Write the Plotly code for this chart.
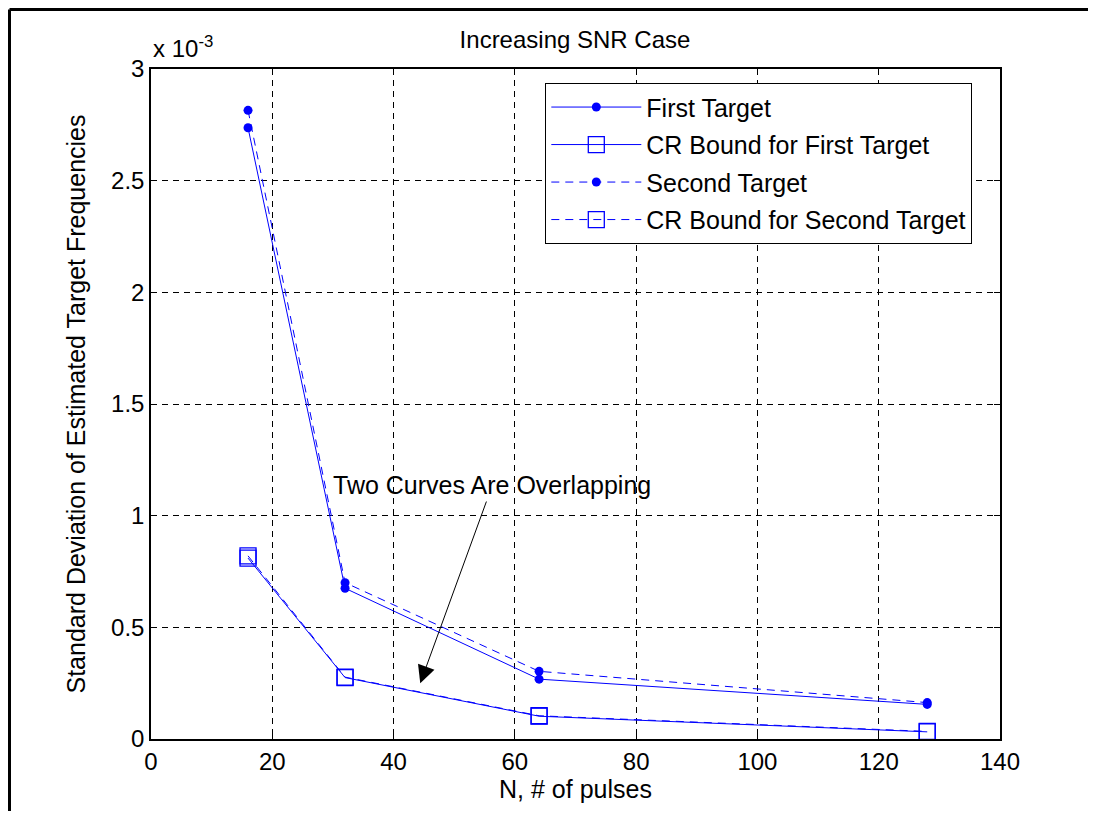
import plotly.graph_objects as go

# Data (y values in units of 1e-3)
N = [16, 32, 64, 128]
first_target = [2.737, 0.675, 0.268, 0.155]
crb_first = [0.810, 0.275, 0.102, 0.032]
second_target = [2.815, 0.700, 0.303, 0.163]
crb_second = [0.820, 0.277, 0.104, 0.034]

x_ticks = [0, 20, 40, 60, 80, 100, 120, 140]
y_ticks = [0, 0.5, 1, 1.5, 2, 2.5, 3]
y_tick_text = ["0", "0.5", "1", "1.5", "2", "2.5", "3"]

BLUE = "rgb(0,0,255)"
FONT = "Liberation Sans, Arial, sans-serif"
FS = 24
FS_TEXT = 25

W, H = 1080, 803  # page sits 8px in from the window edge

fig = go.Figure()
fig.add_trace(go.Scatter(x=N, y=first_target, name="First Target", mode="lines+markers",
                         legendgroup="a",
                         line=dict(color=BLUE, width=1),
                         marker=dict(symbol="circle", size=9, color=BLUE)))
fig.add_trace(go.Scatter(x=N, y=crb_first, name="CR Bound for First Target", mode="lines+markers",
                         legendgroup="b",
                         line=dict(color=BLUE, width=1),
                         marker=dict(symbol="square-open", size=16, color=BLUE, line=dict(width=1.3))))
fig.add_trace(go.Scatter(x=N, y=second_target, name="Second Target", mode="lines+markers",
                         legendgroup="c",
                         line=dict(color=BLUE, width=1, dash="8px,6px"),
                         marker=dict(symbol="circle", size=9, color=BLUE)))
fig.add_trace(go.Scatter(x=N, y=crb_second, name="CR Bound for Second Target", mode="lines+markers",
                         legendgroup="d",
                         line=dict(color=BLUE, width=1, dash="8px,6px"),
                         marker=dict(symbol="square-open", size=16, color=BLUE, line=dict(width=1.3))))

axis_common = dict(showline=True, linecolor="black", linewidth=1.5, mirror="ticks",
                   ticks="inside", ticklen=6, tickcolor="black",
                   showgrid=True, gridcolor="black", gridwidth=1, griddash="6px,5px",
                   zeroline=False, tickfont=dict(family=FONT, size=FS, color="black"))

fig.update_xaxes(range=[0, 140], tickvals=x_ticks, **axis_common,
                 title=dict(text="N, # of pulses", font=dict(family=FONT, size=FS_TEXT, color="black"), standoff=2))
fig.update_yaxes(range=[0, 3], tickvals=y_ticks, ticktext=y_tick_text, **axis_common,
                 title=dict(text="Standard Deviation of Estimated Target Frequencies",
                            font=dict(family=FONT, size=FS_TEXT, color="black"), standoff=18))

fig.update_layout(
    width=W, height=H,
    margin=dict(l=143, r=W - 992, t=61, b=H - 731, autoexpand=False),
    paper_bgcolor="white", plot_bgcolor="white",
    font=dict(family=FONT, color="black"),
    title=dict(text="Increasing SNR Case", x=567 / W, xref="container", xanchor="center",
               y=1 - 32 / H, yref="container", yanchor="middle",
               font=dict(family=FONT, size=FS, color="black")),
    legend=dict(x=(545 - 151) / 849, y=(739 - 83) / 670, xanchor="left", yanchor="top",
                bgcolor="white", bordercolor="black", borderwidth=1.3,
                font=dict(family=FONT, size=FS_TEXT, color="black"), itemwidth=90,
                tracegroupgap=2),
    showlegend=True,
)

# "x 10^-3" exponent label
fig.add_annotation(text="x 10<sup>-3</sup>", xref="paper", yref="paper",
                   x=0.0, y=(739 - 47) / 670, xanchor="left", yanchor="middle",
                   showarrow=False, font=dict(family=FONT, size=FS, color="black"))

# Text annotation and arrow
fig.add_annotation(text="Two Curves Are Overlapping", x=56.2, y=1.137, xref="x", yref="y",
                   showarrow=False, font=dict(family=FONT, size=FS_TEXT, color="black"))
fig.add_annotation(text="", x=44.4, y=0.25, ax=55.4, ay=1.07, xref="x", yref="y",
                   axref="x", ayref="y", showarrow=True, arrowhead=2, arrowsize=3.5,
                   arrowwidth=1, arrowcolor="black")

# Figure frame lines (left and top)
fx = (1.5 - 143) / 849
fy = (731 - 1.5) / 670
fx_end = (W - 143) / 849
fig.add_shape(type="line", xref="paper", yref="paper",
              x0=fx, x1=fx, y0=(731 - H) / 670, y1=fy, line=dict(color="black", width=3))
fig.add_shape(type="line", xref="paper", yref="paper",
              x0=fx, x1=fx_end, y0=fy, y1=fy, line=dict(color="black", width=3))

fig.write_html("out.html")
